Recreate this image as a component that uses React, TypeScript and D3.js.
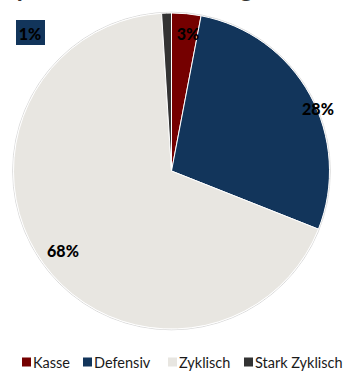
import React from "react";
import * as d3 from "d3";

const categories = ["Kasse", "Defensiv", "Zyklisch", "Stark Zyklisch"];
const values = [3, 28, 68, 1];
const labels = ["3%", "28%", "68%", "1%"];
const colors = ["#750000", "#12355B", "#E8E6E1", "#333333"];
const title = "Zyklische Ausrichtung";

const W = 356;
const H = 373;

export default function App() {
  const cx = 171.5;
  const cy = 171;
  const r = 158;
  const pie = d3.pie<number>().sort(null).value((d) => d)(values);
  const arc = d3.arc<d3.PieArcDatum<number>>().innerRadius(0).outerRadius(r);
  const labelPos = [
    [188, 33],
    [318, 108],
    [63, 250],
    [30, 33],
  ];
  const legendX = [22, 83, 168, 244];
  const font = "Lato, 'Open Sans', sans-serif";
  return (
    <svg
      width={W}
      height={H}
      style={{ position: "absolute", left: 0, top: 0, background: "#fff" }}
    >
      <text x={0} y={-3} fontFamily={font} fontWeight="bold" fontSize={26} fill="#333">
        {title}
      </text>
      <circle cx={cx} cy={cy} r={r + 0.8} fill="none" stroke="#d0d0d0" strokeWidth={0.8} />
      <g transform={`translate(${cx},${cy})`}>
        {pie.map((p, i) => (
          <path key={i} d={arc(p) || ""} fill={colors[i]} stroke="#fff" strokeWidth={1} />
        ))}
      </g>
      <rect x={16} y={20} width={29} height={25} fill="#12355B" />
      {labels.map((l, i) => (
        <text
          key={i}
          x={labelPos[i][0]}
          y={labelPos[i][1]}
          textAnchor="middle"
          dominantBaseline="central"
          fontFamily={font}
          fontWeight="900"
          fontSize={16}
          fill="#000"
        >
          {l}
        </text>
      ))}
      {categories.map((c, i) => (
        <g key={c} transform={`translate(${legendX[i]},362)`}>
          <rect x={0} y={-4.5} width={9} height={9} fill={colors[i]} />
          <text x={11} y={0.5} dominantBaseline="central" fontFamily={font} fontSize={14.5} fill="#1a1a1a">
            {c}
          </text>
        </g>
      ))}
    </svg>
  );
}
